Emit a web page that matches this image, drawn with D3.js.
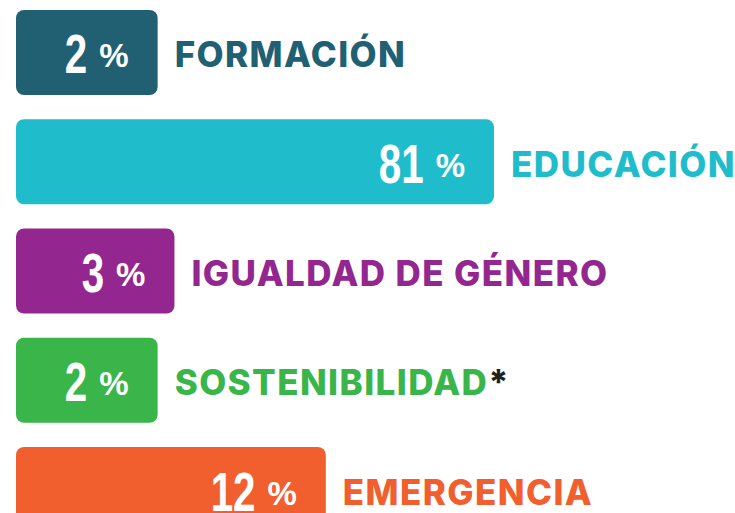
<!DOCTYPE html>
<html>
<head>
<meta charset="utf-8">
<script src="https://cdn.jsdelivr.net/npm/d3@7"></script>
<style>
  html, body { margin: 0; padding: 0; background: #fff; }
  svg { display: block; }
</style>
</head>
<body>
<div id="chart"></div>
<script>
// areas de trabajo y su porcentaje
var categories = ["FORMACIÓN", "EDUCACIÓN", "IGUALDAD DE GÉNERO", "SOSTENIBILIDAD", "EMERGENCIA"];
var values = [2, 81, 3, 2, 12];
var colors = ["#216073", "#1fbdcc", "#93278f", "#39b54a", "#f15f2f"];
var marks = ["", "", "", "*", ""];   // nota al pie en la etiqueta

var width = 735, height = 513;
var x0 = 16;

var svg = d3.select("#chart").append("svg")
  .attr("width", width)
  .attr("height", height);

// lineal hasta ~22%, la barra de 81% va cortada (clamp)
var x = d3.scaleLinear().domain([0, 22]).range([124, 494]).clamp(true);

var y = d3.scaleBand()
  .domain(categories)
  .range([10, 532])
  .paddingInner(0.222)
  .paddingOuter(0);

var rows = svg.selectAll("g.row")
  .data(categories.map(function(c, i) {
    return {name: c, value: values[i], color: colors[i], mark: marks[i]};
  }))
  .enter().append("g")
  .attr("class", "row");

rows.append("rect")
  .attr("x", x0)
  .attr("y", d => y(d.name))
  .attr("width", d => x(d.value) - x0)
  .attr("height", y.bandwidth())
  .attr("rx", 8)
  .attr("fill", d => d.color);

// signo %
rows.append("text")
  .attr("x", d => x(d.value) - 29)
  .attr("y", d => y(d.name) + y.bandwidth() / 2 + 15)
  .attr("text-anchor", "end")
  .attr("fill", "#fff")
  .style("font-family", "'Liberation Sans Narrow', sans-serif")
  .style("font-weight", "700")
  .style("font-size", "33px")
  .text("%");

// numero, fuente estrecha comprimida
rows.each(function(d) {
  var g = d3.select(this);
  var p = g.select("text").node().getBBox();
  g.append("g")
    .attr("transform", "translate(" + (p.x - 12) + "," + (y(d.name) + y.bandwidth() / 2 + 21) + ") scale(0.72,1)")
    .append("text")
    .attr("text-anchor", "end")
    .attr("fill", "#fff")
    .style("font-family", "'Liberation Sans Narrow', sans-serif")
    .style("font-weight", "700")
    .style("font-size", "56px")
    .text(d.value);
});

// etiquetas
var lab = rows.append("text")
  .attr("x", d => x(d.value) + 17)
  .attr("y", d => y(d.name) + y.bandwidth() / 2 + 15)
  .attr("fill", d => d.color)
  .style("font-family", "Inter, sans-serif")
  .style("font-weight", "800")
  .style("font-size", "35px")
  .style("letter-spacing", "1.4px")
  .text(d => d.name);

lab.filter(d => d.mark)
  .append("tspan")
  .attr("fill", "#231f20")
  .text(d => d.mark);
</script>
</body>
</html>
